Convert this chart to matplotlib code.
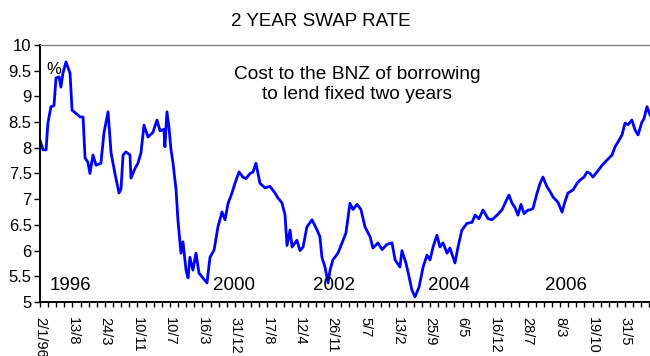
import matplotlib
matplotlib.use("Agg")
import matplotlib.pyplot as plt
from matplotlib.ticker import MultipleLocator, FixedLocator, FuncFormatter

plt.rcParams['font.family'] = ['Liberation Sans', 'DejaVu Sans']

# trading-day number since 2 Jan 1996, and the 2 year swap rate (%)
day = [0, 15, 30, 39, 54, 69, 79, 94, 103, 113, 128, 148, 158, 177, 197, 212,
       222, 236, 246, 261, 276, 300, 315, 335, 350, 369, 389, 399, 409, 423,
       443, 448, 468, 482, 497, 512, 532, 556, 576, 591, 610, 615, 625, 635,
       645, 655, 670, 679, 694, 704, 719, 729, 738, 753, 768, 783, 802, 822,
       837, 857, 876, 896, 911, 926, 945, 960, 980, 999, 1014, 1034, 1049,
       1063, 1083, 1108, 1132, 1157, 1172, 1191, 1206, 1216, 1231, 1241, 1265,
       1280, 1295, 1314, 1339, 1364, 1378, 1388, 1403, 1418, 1428, 1442, 1467,
       1487, 1506, 1526, 1541, 1561, 1580, 1600, 1625, 1639, 1664, 1684, 1708,
       1733, 1748, 1772, 1782, 1802, 1817, 1831, 1846, 1866, 1886, 1905, 1920,
       1935, 1954, 1969, 1984, 2004, 2018, 2043, 2058, 2077, 2102, 2127, 2142,
       2161, 2181, 2206, 2225, 2250, 2274, 2289, 2309, 2324, 2338, 2353, 2368,
       2383, 2402, 2412, 2427, 2447, 2462, 2476, 2496, 2511, 2526, 2550, 2570,
       2585, 2599, 2624, 2644, 2658, 2678, 2693, 2708, 2722, 2742, 2767, 2791,
       2816, 2831, 2845, 2865, 2880, 2895, 2914, 2929, 2944, 2963, 2973, 2988,
       3003]
rate = [8.15, 7.96, 7.96, 8.48, 8.80, 8.82, 9.36, 9.38, 9.18, 9.45, 9.67, 9.45,
        8.73, 8.67, 8.60, 8.60, 7.80, 7.72, 7.50, 7.86, 7.66, 7.70, 8.29, 8.70,
        7.90, 7.50, 7.12, 7.20, 7.86, 7.92, 7.86, 7.41, 7.60, 7.70, 7.90, 8.44,
        8.21, 8.30, 8.54, 8.33, 8.36, 8.02, 8.70, 8.40, 7.96, 7.70, 7.18, 6.60,
        5.95, 6.17, 5.62, 5.47, 5.87, 5.62, 5.95, 5.56, 5.47, 5.37, 5.87, 6.01,
        6.46, 6.75, 6.60, 6.92, 7.12, 7.31, 7.53, 7.43, 7.40, 7.50, 7.53, 7.70,
        7.31, 7.22, 7.25, 7.12, 7.02, 6.93, 6.70, 6.10, 6.40, 6.07, 6.20, 6.00,
        6.07, 6.46, 6.60, 6.40, 6.27, 5.87, 5.68, 5.37, 5.62, 5.82, 5.95, 6.15,
        6.34, 6.92, 6.80, 6.90, 6.80, 6.46, 6.27, 6.05, 6.15, 6.02, 6.12, 6.15,
        5.82, 5.68, 6.00, 5.75, 5.49, 5.23, 5.10, 5.29, 5.68, 5.91, 5.82, 6.07,
        6.30, 6.07, 6.15, 5.95, 6.05, 5.76, 6.07, 6.40, 6.53, 6.55, 6.69, 6.62,
        6.79, 6.62, 6.60, 6.69, 6.79, 6.92, 7.08, 6.92, 6.84, 6.69, 6.90, 6.72,
        6.79, 6.79, 6.82, 7.12, 7.31, 7.43, 7.24, 7.15, 7.04, 6.94, 6.75, 6.96,
        7.12, 7.18, 7.31, 7.37, 7.43, 7.53, 7.50, 7.43, 7.53, 7.66, 7.76, 7.86,
        8.02, 8.11, 8.25, 8.48, 8.45, 8.54, 8.35, 8.25, 8.50, 8.56, 8.80, 8.64]

date_labels = ['2/1/96', '13/8', '24/3', '10/11', '10/7', '16/3', '31/12',
               '17/8', '12/4', '26/11', '5/7', '13/2', '25/9', '6/5', '16/12',
               '28/7', '8/3', '19/10', '31/5']
label_step = 160

years = ['1996', '2000', '2002', '2004', '2006']
year_day = [49, 852, 1344, 1910, 2486]

fig = plt.figure(figsize=(6.5, 3.56), dpi=100)
ax = fig.add_axes([0.0615, 0.1517, 0.9385, 0.7219])

ax.plot(day, rate, color='#0000ff', linewidth=2.0)

ax.set_xlim(0, 3003)
ax.set_ylim(5, 10)

ax.yaxis.set_major_locator(MultipleLocator(0.5))
ax.yaxis.set_major_formatter(FuncFormatter(lambda v, p: f'{v:g}'))
ax.xaxis.set_major_locator(FixedLocator([i * label_step for i in range(len(date_labels))]))
ax.set_xticklabels(date_labels, rotation=270, fontsize=10.5)
ax.xaxis.set_minor_locator(MultipleLocator(label_step / 4))
ax.tick_params(axis='y', labelsize=12, length=4, width=1, direction='out', pad=2)
ax.tick_params(axis='x', which='both', length=3.5, width=1, direction='out', pad=7)

for side in ['left', 'bottom']:
    ax.spines[side].set_linewidth(1.4)
    ax.spines[side].set_color('black')
ax.spines['top'].set_color('#808080')
ax.spines['top'].set_linewidth(1)
ax.spines['right'].set_visible(False)

for y, d in zip(years, year_day):
    ax.text(d, 5.33, y, fontsize=13.5, ha='left', va='center')

ax.text(0.011, 0.905, '%', transform=ax.transAxes, fontsize=12, ha='left', va='center')
ax.text(0.52, 0.846, 'Cost to the BNZ of borrowing\nto lend fixed two years',
        transform=ax.transAxes, fontsize=13.8, ha='center', va='center',
        linespacing=1.25)
fig.text(0.493, 0.94, '2 YEAR SWAP RATE', fontsize=13.5, ha='center', va='center')

fig.savefig('out.png', dpi=100)
